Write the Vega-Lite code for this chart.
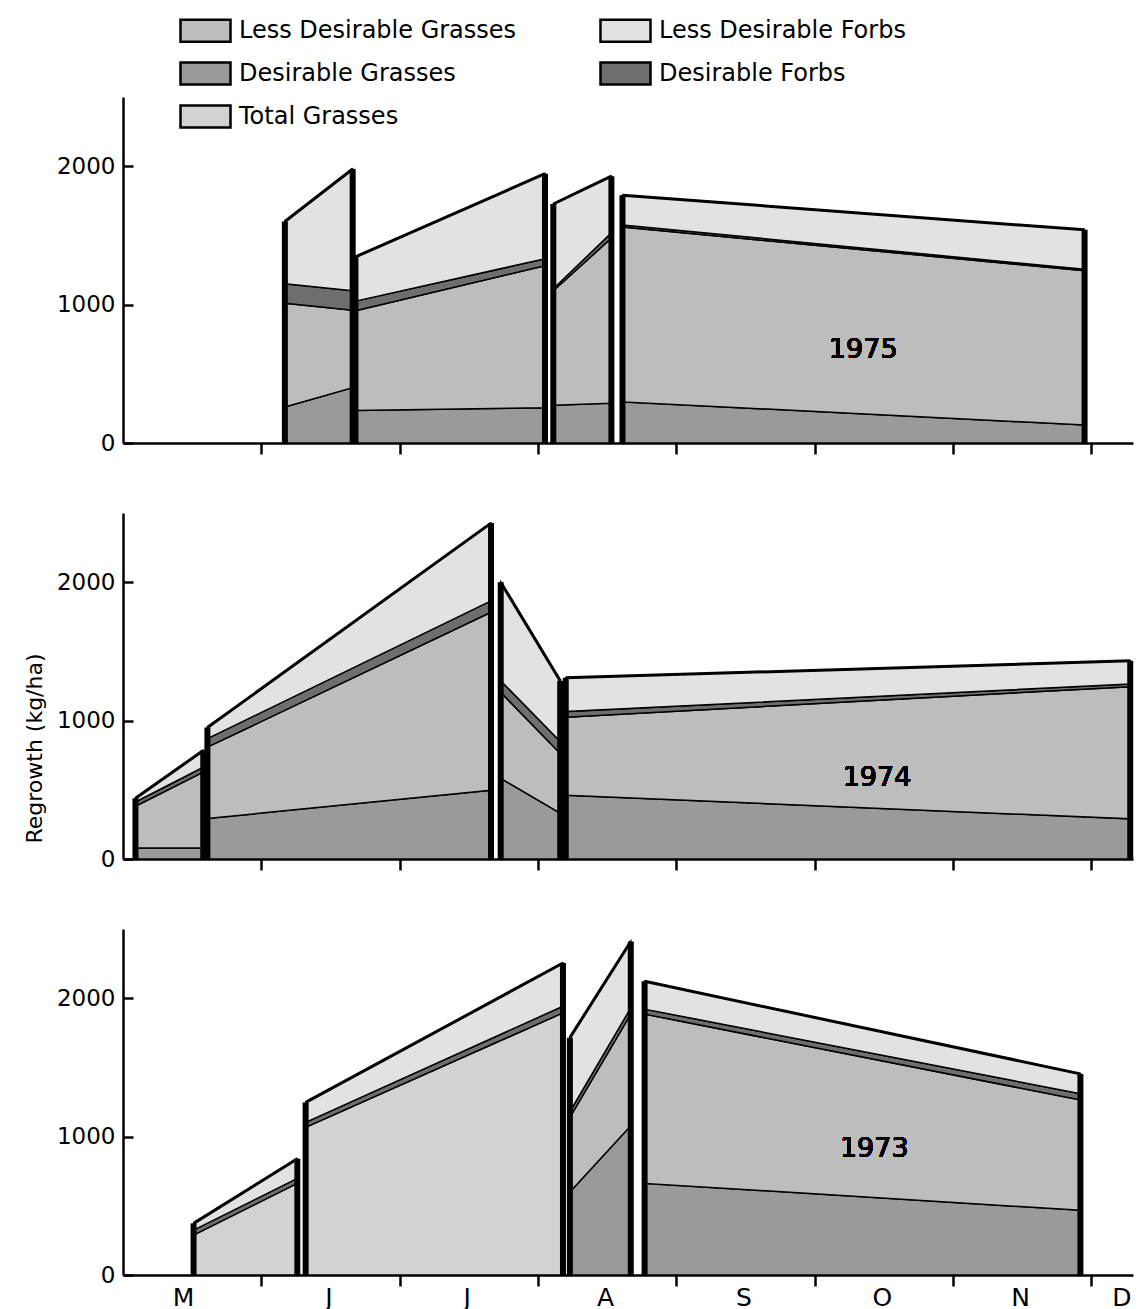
{
  "$schema": "https://vega.github.io/schema/vega-lite/v6.json",
  "background": "white",
  "padding": {"left": 23, "top": 4, "right": 0, "bottom": 0},
  "datasets": {
    "cats": [
      {"cat": "Desirable Grasses", "k": 1},
      {"cat": "Total Grasses", "k": 1},
      {"cat": "Less Desirable Grasses", "k": 2},
      {"cat": "Desirable Forbs", "k": 3},
      {"cat": "Less Desirable Forbs", "k": 4}
    ],
    "regrowth": [
      {"yr": 1975, "seg": "A", "x": 1.17, "Desirable Grasses": 260, "Less Desirable Grasses": 750, "Desirable Forbs": 140, "Less Desirable Forbs": 450},
      {"yr": 1975, "seg": "A", "x": 1.66, "Desirable Grasses": 400, "Less Desirable Grasses": 560, "Desirable Forbs": 140, "Less Desirable Forbs": 880},
      {"yr": 1975, "seg": "B", "x": 1.68, "Desirable Grasses": 235, "Less Desirable Grasses": 720, "Desirable Forbs": 70, "Less Desirable Forbs": 320},
      {"yr": 1975, "seg": "B", "x": 3.05, "Desirable Grasses": 255, "Less Desirable Grasses": 1026, "Desirable Forbs": 50, "Less Desirable Forbs": 615},
      {"yr": 1975, "seg": "C", "x": 3.11, "Desirable Grasses": 273, "Less Desirable Grasses": 827, "Desirable Forbs": 15, "Less Desirable Forbs": 612},
      {"yr": 1975, "seg": "C", "x": 3.53, "Desirable Grasses": 288, "Less Desirable Grasses": 1192, "Desirable Forbs": 38, "Less Desirable Forbs": 410},
      {"yr": 1975, "seg": "D", "x": 3.61, "Desirable Grasses": 297, "Less Desirable Grasses": 1263, "Desirable Forbs": 15, "Less Desirable Forbs": 215},
      {"yr": 1975, "seg": "D", "x": 6.95, "Desirable Grasses": 130, "Less Desirable Grasses": 1115, "Desirable Forbs": 10, "Less Desirable Forbs": 285},
      {"yr": 1974, "seg": "A", "x": 0.09, "Desirable Grasses": 80, "Less Desirable Grasses": 301, "Desirable Forbs": 31, "Less Desirable Forbs": 27},
      {"yr": 1974, "seg": "A", "x": 0.58, "Desirable Grasses": 80, "Less Desirable Grasses": 548, "Desirable Forbs": 35, "Less Desirable Forbs": 121},
      {"yr": 1974, "seg": "B", "x": 0.61, "Desirable Grasses": 293, "Less Desirable Grasses": 515, "Desirable Forbs": 62, "Less Desirable Forbs": 80},
      {"yr": 1974, "seg": "B", "x": 2.66, "Desirable Grasses": 496, "Less Desirable Grasses": 1287, "Desirable Forbs": 82, "Less Desirable Forbs": 562},
      {"yr": 1974, "seg": "C", "x": 2.73, "Desirable Grasses": 583, "Less Desirable Grasses": 621, "Desirable Forbs": 84, "Less Desirable Forbs": 712},
      {"yr": 1974, "seg": "C", "x": 3.16, "Desirable Grasses": 331, "Less Desirable Grasses": 432, "Desirable Forbs": 86, "Less Desirable Forbs": 439},
      {"yr": 1974, "seg": "D", "x": 3.2, "Desirable Grasses": 460, "Less Desirable Grasses": 565, "Desirable Forbs": 40, "Less Desirable Forbs": 244},
      {"yr": 1974, "seg": "D", "x": 7.28, "Desirable Grasses": 290, "Less Desirable Grasses": 955, "Desirable Forbs": 20, "Less Desirable Forbs": 167},
      {"yr": 1973, "seg": "A", "x": 0.51, "Total Grasses": 288, "Desirable Forbs": 36, "Less Desirable Forbs": 49},
      {"yr": 1973, "seg": "A", "x": 1.26, "Total Grasses": 662, "Desirable Forbs": 36, "Less Desirable Forbs": 142},
      {"yr": 1973, "seg": "B", "x": 1.32, "Total Grasses": 1067, "Desirable Forbs": 36, "Less Desirable Forbs": 144},
      {"yr": 1973, "seg": "B", "x": 3.18, "Total Grasses": 1894, "Desirable Forbs": 48, "Less Desirable Forbs": 312},
      {"yr": 1973, "seg": "C", "x": 3.23, "Desirable Grasses": 599, "Less Desirable Grasses": 540, "Desirable Forbs": 41, "Less Desirable Forbs": 535},
      {"yr": 1973, "seg": "C", "x": 3.67, "Desirable Grasses": 1079, "Less Desirable Grasses": 806, "Desirable Forbs": 45, "Less Desirable Forbs": 480},
      {"yr": 1973, "seg": "D", "x": 3.77, "Desirable Grasses": 662, "Less Desirable Grasses": 1223, "Desirable Forbs": 36, "Less Desirable Forbs": 201},
      {"yr": 1973, "seg": "D", "x": 6.92, "Desirable Grasses": 468, "Less Desirable Grasses": 797, "Desirable Forbs": 45, "Less Desirable Forbs": 143}
    ]
  },
  "data": {"name": "regrowth"},
  "spacing": 57,
  "vconcat": [
    {
      "width": 1010, "height": 346,
      "transform": [
        {"filter": "datum.yr == 1975"},
        {"fold": ["Desirable Grasses", "Total Grasses", "Less Desirable Grasses", "Desirable Forbs", "Less Desirable Forbs"], "as": ["cat", "v"]},
        {"filter": "isValid(datum.v)"},
        {"lookup": "cat", "from": {"data": {"name": "cats"}, "key": "cat", "fields": ["k"]}},
        {"stack": "v", "groupby": ["x"], "sort": [{"field": "k", "order": "ascending"}], "as": ["lo", "hi"]}
      ],
      "layer": [
        {
          "mark": {"type": "area", "stroke": "black", "strokeWidth": 1.5, "opacity": 1, "fillOpacity": 1, "strokeJoin": "miter"},
          "encoding": {
            "x": {"field": "x", "type": "quantitative", "scale": {"domain": [0, 7.3], "nice": false, "zero": false},
                  "axis": {"values": [0, 1, 2, 3, 4, 5, 6, 7], "title": null, "labels": false, "tickSize": 11,
                           "tickOpacity": {"condition": {"test": "datum.value == 0", "value": 0}, "value": 1}}},
            "y": {"field": "hi", "type": "quantitative", "scale": {"domain": [0, 2500], "nice": false},
                  "axis": {"values": [0, 1000, 2000], "title": null, "format": "d", "tickSize": -10, "labelPadding": 18}},
            "y2": {"field": "lo"},
            "detail": {"field": "seg"},
            "color": {"field": "cat", "type": "nominal", "legend": {"title": null},
                      "scale": {"domain": ["Less Desirable Grasses", "Desirable Grasses", "Total Grasses", "Less Desirable Forbs", "Desirable Forbs"],
                                "range": ["#bdbdbd", "#9a9a9a", "#d2d2d2", "#e2e2e2", "#6e6e6e"]}}
          }
        },
        {
          "transform": [{"filter": "datum.cat == 'Less Desirable Forbs'"}],
          "mark": {"type": "line", "color": "black", "strokeWidth": 3},
          "encoding": {"x": {"field": "x", "type": "quantitative"}, "y": {"field": "hi", "type": "quantitative"}, "detail": {"field": "seg"}}
        },
        {
          "transform": [{"filter": "datum.cat == 'Less Desirable Forbs'"}],
          "mark": {"type": "rule", "color": "black", "strokeWidth": 6},
          "encoding": {"x": {"field": "x", "type": "quantitative"}, "y": {"field": "hi", "type": "quantitative"}, "y2": {"datum": 0}}
        },
        {
          "mark": {"type": "text", "text": "1975", "fontSize": 27, "color": "black"},
          "encoding": {"x": {"datum": 5.35}, "y": {"datum": 675}}
        }
      ]
    },
    {
      "width": 1010, "height": 346,
      "transform": [
        {"filter": "datum.yr == 1974"},
        {"fold": ["Desirable Grasses", "Total Grasses", "Less Desirable Grasses", "Desirable Forbs", "Less Desirable Forbs"], "as": ["cat", "v"]},
        {"filter": "isValid(datum.v)"},
        {"lookup": "cat", "from": {"data": {"name": "cats"}, "key": "cat", "fields": ["k"]}},
        {"stack": "v", "groupby": ["x"], "sort": [{"field": "k", "order": "ascending"}], "as": ["lo", "hi"]}
      ],
      "layer": [
        {
          "mark": {"type": "area", "stroke": "black", "strokeWidth": 1.5, "opacity": 1, "fillOpacity": 1, "strokeJoin": "miter"},
          "encoding": {
            "x": {"field": "x", "type": "quantitative", "scale": {"domain": [0, 7.3], "nice": false, "zero": false},
                  "axis": {"values": [0, 1, 2, 3, 4, 5, 6, 7], "title": null, "labels": false, "tickSize": 11,
                           "tickOpacity": {"condition": {"test": "datum.value == 0", "value": 0}, "value": 1}}},
            "y": {"field": "hi", "type": "quantitative", "scale": {"domain": [0, 2500], "nice": false},
                  "axis": {"values": [0, 1000, 2000], "title": "Regrowth (kg/ha)", "titleY": 235, "titlePadding": 10, "format": "d", "tickSize": -10, "labelPadding": 18}},
            "y2": {"field": "lo"},
            "detail": {"field": "seg"},
            "color": {"field": "cat", "type": "nominal", "legend": {"title": null},
                      "scale": {"domain": ["Less Desirable Grasses", "Desirable Grasses", "Total Grasses", "Less Desirable Forbs", "Desirable Forbs"],
                                "range": ["#bdbdbd", "#9a9a9a", "#d2d2d2", "#e2e2e2", "#6e6e6e"]}}
          }
        },
        {
          "transform": [{"filter": "datum.cat == 'Less Desirable Forbs'"}],
          "mark": {"type": "line", "color": "black", "strokeWidth": 3},
          "encoding": {"x": {"field": "x", "type": "quantitative"}, "y": {"field": "hi", "type": "quantitative"}, "detail": {"field": "seg"}}
        },
        {
          "transform": [{"filter": "datum.cat == 'Less Desirable Forbs'"}],
          "mark": {"type": "rule", "color": "black", "strokeWidth": 6},
          "encoding": {"x": {"field": "x", "type": "quantitative"}, "y": {"field": "hi", "type": "quantitative"}, "y2": {"datum": 0}}
        },
        {
          "mark": {"type": "text", "text": "1974", "fontSize": 27, "color": "black"},
          "encoding": {"x": {"datum": 5.45}, "y": {"datum": 585}}
        }
      ]
    },
    {
      "width": 1010, "height": 346,
      "transform": [
        {"filter": "datum.yr == 1973"},
        {"fold": ["Desirable Grasses", "Total Grasses", "Less Desirable Grasses", "Desirable Forbs", "Less Desirable Forbs"], "as": ["cat", "v"]},
        {"filter": "isValid(datum.v)"},
        {"lookup": "cat", "from": {"data": {"name": "cats"}, "key": "cat", "fields": ["k"]}},
        {"stack": "v", "groupby": ["x"], "sort": [{"field": "k", "order": "ascending"}], "as": ["lo", "hi"]}
      ],
      "layer": [
        {
          "mark": {"type": "area", "stroke": "black", "strokeWidth": 1.5, "opacity": 1, "fillOpacity": 1, "strokeJoin": "miter"},
          "encoding": {
            "x": {"field": "x", "type": "quantitative", "scale": {"domain": [0, 7.3], "nice": false, "zero": false},
                  "axis": {"values": [0, 1, 2, 3, 4, 5, 6, 7], "title": null, "tickSize": 11,
                           "labelExpr": "['M','J','J','A','S','O','N','D'][datum.value]",
                           "labelOffset": {"condition": [{"test": "datum.value == 7", "value": 30}, {"test": "datum.value == 0", "value": 60}], "value": 67},
                           "labelFontSize": 25, "labelPadding": -1, "labelFlush": false, "labelOverlap": false, "labelAlign": "center",
                           "tickOpacity": {"condition": {"test": "datum.value == 0", "value": 0}, "value": 1}}},
            "y": {"field": "hi", "type": "quantitative", "scale": {"domain": [0, 2500], "nice": false},
                  "axis": {"values": [0, 1000, 2000], "title": null, "format": "d", "tickSize": -10, "labelPadding": 18}},
            "y2": {"field": "lo"},
            "detail": {"field": "seg"},
            "color": {"field": "cat", "type": "nominal", "legend": {"title": null},
                      "scale": {"domain": ["Less Desirable Grasses", "Desirable Grasses", "Total Grasses", "Less Desirable Forbs", "Desirable Forbs"],
                                "range": ["#bdbdbd", "#9a9a9a", "#d2d2d2", "#e2e2e2", "#6e6e6e"]}}
          }
        },
        {
          "transform": [{"filter": "datum.cat == 'Less Desirable Forbs'"}],
          "mark": {"type": "line", "color": "black", "strokeWidth": 3},
          "encoding": {"x": {"field": "x", "type": "quantitative"}, "y": {"field": "hi", "type": "quantitative"}, "detail": {"field": "seg"}}
        },
        {
          "transform": [{"filter": "datum.cat == 'Less Desirable Forbs'"}],
          "mark": {"type": "rule", "color": "black", "strokeWidth": 6},
          "encoding": {"x": {"field": "x", "type": "quantitative"}, "y": {"field": "hi", "type": "quantitative"}, "y2": {"datum": 0}}
        },
        {
          "mark": {"type": "text", "text": "1973", "fontSize": 27, "color": "black"},
          "encoding": {"x": {"datum": 5.43}, "y": {"datum": 910}}
        }
      ]
    }
  ],
  "config": {
    "font": "DejaVu Sans",
    "view": {"stroke": null},
    "axis": {
      "grid": false,
      "domainColor": "black", "domainWidth": 2.5,
      "tickColor": "black", "tickWidth": 2.5,
      "labelColor": "black", "labelFont": "DejaVu Sans", "labelFontSize": 23,
      "titleColor": "black", "titleFont": "DejaVu Sans", "titleFontSize": 22, "titleFontWeight": "normal"
    },
    "legend": {
      "orient": "none", "legendX": 56, "legendY": -93,
      "columns": 2, "columnPadding": 78, "rowPadding": -13,
      "symbolType": "M-1,-0.44H1V0.44H-1Z", "symbolSize": 2500,
      "symbolStrokeColor": "black", "symbolStrokeWidth": 2.5, "symbolOpacity": 1,
      "labelFont": "DejaVu Sans", "labelFontSize": 24, "labelColor": "black", "labelOffset": 7, "labelLimit": 0
    }
  }
}
